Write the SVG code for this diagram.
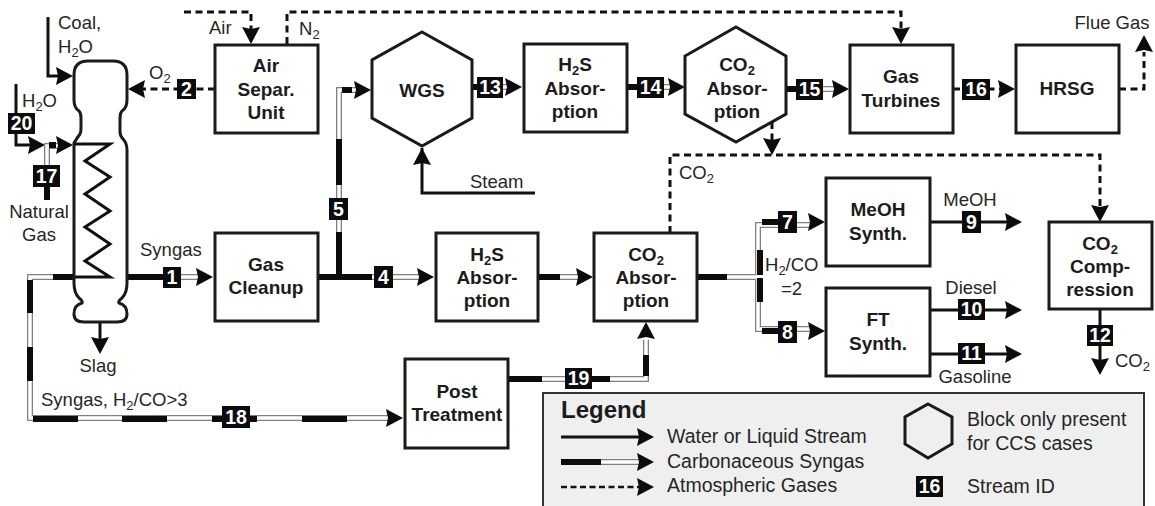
<svg xmlns="http://www.w3.org/2000/svg" width="1155" height="506" viewBox="0 0 1155 506">
<style>
text{font-family:"Liberation Sans",Arial,sans-serif;fill:#262626;font-size:18.5px;text-anchor:middle}
.s{font-size:13px}
.st{text-anchor:start}
.b{font-weight:bold;font-size:19px;fill:#1c1c1c}
.n{font-weight:bold;font-size:19.5px;fill:#fff}
.lg{font-size:19.5px;text-anchor:start}
.box{fill:#fff;stroke:#1a1a1a;stroke-width:3}
.id{fill:#0c0c0c}
.ln{fill:none;stroke:#111;stroke-width:3}
.d{fill:none;stroke:#111;stroke-width:3;stroke-dasharray:7 4.5}
.o{fill:none;stroke:#808080;stroke-width:6}
.i{fill:none;stroke:#fff;stroke-width:3.4}
.k{fill:none;stroke:#0c0c0c;stroke-width:6}
.a{fill:none;stroke:none;marker-end:url(#ah)}
</style>
<defs>
<marker id="ah" markerUnits="userSpaceOnUse" markerWidth="20" markerHeight="20" refX="17" refY="9" orient="auto"><path d="M0 0L17 9L0 18L2 9Z" fill="#0c0c0c"/></marker>
</defs>
<g id="connectors">
<!-- solid -->
<path class="ln" d="M48 17V76H60"/><path class="a" d="M56 76H73"/>
<path class="ln" d="M16 84V145H32"/><path class="a" d="M28 145H45"/>
<path class="ln" d="M73 144H110L85 161L110 177L85 194L110 211L85 227L110 244L85 261L110 277H70"/>
<path class="ln" d="M100 322V340"/><path class="a" d="M100 337V354"/>
<path class="ln" d="M535 193H422V148"/><path class="a" d="M422 165V148"/>
<path class="ln" d="M930 222H1008"/><path class="a" d="M1005 222H1022"/>
<path class="ln" d="M930 310H1008"/><path class="a" d="M1005 310H1022"/>
<path class="ln" d="M930 354H1008"/><path class="a" d="M1005 354H1022"/>
<path class="ln" d="M1100 309V360"/><path class="a" d="M1100 358V375"/>
<!-- dashed -->
<path class="d" d="M184 12H251V30"/><path class="a" d="M251 27V44"/>
<path class="d" d="M287 44V12H901V30"/><path class="a" d="M901 27V44"/>
<path class="d" d="M215 89H143"/><path class="a" d="M145 89H128"/>
<path class="d" d="M953 89H1000"/><path class="a" d="M998 89H1015"/>
<path class="d" d="M1119 89H1144V52"/><path class="a" d="M1144 52V35"/>
<path class="d" d="M772 122V142"/><path class="a" d="M772 138V155"/>
<path class="d" d="M670 233V155H1100V208"/><path class="a" d="M1100 205V222"/>
<!-- hollow syngas -->
<path class="o" d="M74 277H30V418H390"/><path class="i" d="M74 277H30V418H390"/>
<path class="k" d="M53 277H74M30 280V313M30 347V381M33 419H78M122 419H167M212 419H257M302 419H347"/>
<path class="a" d="M386 418H403"/>
<path class="o" d="M127 277H199"/><path class="i" d="M127 277H199"/><path class="k" d="M127 277H165"/><path class="a" d="M196 277H213"/>
<path class="o" d="M318 277H420"/><path class="i" d="M318 277H420"/><path class="k" d="M318 277H372"/><path class="a" d="M417 277H434"/>
<path class="o" d="M339 277V90H358"/><path class="i" d="M339 277V90H358"/><path class="k" d="M339 277V232M339 185V139M342 90H352"/><path class="a" d="M354 90H371"/>
<path class="o" d="M538 277H580"/><path class="i" d="M538 277H580"/><path class="k" d="M538 277H560"/><path class="a" d="M576 277H593"/>
<path class="o" d="M472 87H510"/><path class="i" d="M472 87H510"/><path class="k" d="M472 87H480"/><path class="a" d="M505 87H522"/>
<path class="o" d="M627 87H672"/><path class="i" d="M627 87H672"/><path class="k" d="M627 87H640"/><path class="a" d="M668 87H685"/>
<path class="o" d="M786 89H835"/><path class="i" d="M786 89H835"/><path class="k" d="M786 89H800"/><path class="a" d="M832 89H849"/>
<path class="o" d="M47 167V146H60"/><path class="i" d="M47 167V146H60"/><path class="k" d="M49 145H56M47 185V200"/><path class="a" d="M56 145H73"/>
<path class="o" d="M508 379H646V340"/><path class="i" d="M508 379H646V340"/><path class="k" d="M508 379H542M580 379H610M646 376V355"/><path class="a" d="M646 339V322"/>
<path class="o" d="M697 277H757"/><path class="i" d="M697 277H757"/><path class="k" d="M697 277H727"/>
<path class="o" d="M758 275V225H810"/><path class="i" d="M758 275V225H810"/><path class="k" d="M760 275V250M762 222H780"/><path class="a" d="M808 222H825"/>
<path class="o" d="M758 279V329H810"/><path class="i" d="M758 279V329H810"/><path class="k" d="M760 278V302M762 331H780"/><path class="a" d="M808 331H825"/>
</g>
<g id="gasifier"><path d="M74 75Q74 61 88 61H113Q127 61 127 75V100Q127 108 122 111Q120 113 120 118V132Q120 136 123 139Q127 143 127 150V283Q127 293 122 298Q118 301 119 303Q127 305 127 314Q127 322 117 322H84Q74 322 74 314Q74 305 82 303Q83 301 79 298Q74 293 74 283V143Q77 138 80 134Q81 132 81 128V118Q81 113 79 111Q74 108 74 100Z" fill="none" stroke="#1a1a1a" stroke-width="3"/></g>
<g id="air-sep"><rect class="box" x="215" y="45" width="103" height="88"/><text class="b" x="266" y="72">Air</text><text class="b" x="266" y="96">Separ.</text><text class="b" x="266" y="119">Unit</text></g>
<g id="gas-cleanup"><rect class="box" x="215" y="233" width="103" height="88"/><text class="b" x="266" y="271">Gas</text><text class="b" x="266" y="294">Cleanup</text></g>
<g id="wgs"><path class="box" d="M422 32L472 60V118L422 146L372 118V60Z"/><text class="b" x="422" y="97">WGS</text></g>
<g id="h2s-top"><rect class="box" x="524" y="44" width="103" height="88"/><text class="b" x="575" y="71">H<tspan class="s" dy="4">2</tspan><tspan dy="-4">S</tspan></text><text class="b" x="575" y="95">Absor-</text><text class="b" x="575" y="118">ption</text></g>
<g id="co2-top"><path class="box" d="M736 27L786 56V114L736 142L685 114V56Z"/><text class="b" x="737" y="71">CO<tspan class="s" dy="4">2</tspan></text><text class="b" x="737" y="95">Absor-</text><text class="b" x="737" y="118">ption</text></g>
<g id="gas-turbines"><rect class="box" x="850" y="45" width="103" height="88"/><text class="b" x="901" y="83">Gas</text><text class="b" x="901" y="107">Turbines</text></g>
<g id="hrsg"><rect class="box" x="1016" y="45" width="103" height="88"/><text class="b" x="1067" y="95">HRSG</text></g>
<g id="meoh"><rect class="box" x="826" y="178" width="104" height="88"/><text class="b" x="878" y="216">MeOH</text><text class="b" x="878" y="240">Synth.</text></g>
<g id="ft"><rect class="box" x="826" y="288" width="104" height="88"/><text class="b" x="878" y="326">FT</text><text class="b" x="878" y="350">Synth.</text></g>
<g id="co2-comp"><rect class="box" x="1049" y="222" width="103" height="87"/><text class="b" x="1100" y="250">CO<tspan class="s" dy="4">2</tspan></text><text class="b" x="1100" y="273">Comp-</text><text class="b" x="1100" y="296">ression</text></g>
<g id="h2s-low"><rect class="box" x="436" y="233" width="102" height="88"/><text class="b" x="487" y="261">H<tspan class="s" dy="4">2</tspan><tspan dy="-4">S</tspan></text><text class="b" x="487" y="284">Absor-</text><text class="b" x="487" y="307">ption</text></g>
<g id="co2-low"><rect class="box" x="594" y="233" width="103" height="88"/><text class="b" x="646" y="261">CO<tspan class="s" dy="4">2</tspan></text><text class="b" x="646" y="284">Absor-</text><text class="b" x="646" y="307">ption</text></g>
<g id="post"><rect class="box" x="405" y="359" width="103" height="89"/><text class="b" x="457" y="398">Post</text><text class="b" x="457" y="421">Treatment</text></g>
<g id="labels">
<text class="st" x="58" y="29">Coal,</text>
<text class="st" x="58" y="53">H<tspan class="s" dy="4">2</tspan><tspan dy="-4">O</tspan></text>
<text class="st" x="22" y="107">H<tspan class="s" dy="4">2</tspan><tspan dy="-4">O</tspan></text>
<text x="39" y="218">Natural</text><text x="39" y="241">Gas</text>
<text x="98" y="372">Slag</text>
<text class="st" x="140" y="256">Syngas</text>
<text class="st" x="41" y="406">Syngas, H<tspan class="s" dy="4">2</tspan><tspan dy="-4">/CO&gt;3</tspan></text>
<text class="st" x="149" y="79">O<tspan class="s" dy="4">2</tspan></text>
<text class="st" x="209" y="34">Air</text>
<text class="st" x="299" y="35">N<tspan class="s" dy="4">2</tspan></text>
<text class="st" x="470" y="188">Steam</text>
<text class="st" x="679" y="179">CO<tspan class="s" dy="4">2</tspan></text>
<text x="1112" y="29">Flue Gas</text>
<text x="970" y="206">MeOH</text><text x="971" y="294">Diesel</text><text x="975" y="383">Gasoline</text>
<text class="st" x="1115" y="367">CO<tspan class="s" dy="4">2</tspan></text>
<text class="st" x="765" y="271">H<tspan class="s" dy="4">2</tspan><tspan dy="-4">/CO</tspan></text>
<text class="st" x="781" y="295">=2</text>
</g>
<g id="streams">
<g><rect class="id" x="163" y="267" width="18" height="21"/><text class="n" x="172" y="284">1</text></g>
<g><rect class="id" x="177" y="79" width="19" height="20"/><text class="n" x="186.500" y="96">2</text></g>
<g><rect class="id" x="374" y="266" width="19" height="22"/><text class="n" x="383.500" y="284">4</text></g>
<g><rect class="id" x="329" y="198" width="19" height="22"/><text class="n" x="338.500" y="216">5</text></g>
<g><rect class="id" x="778" y="211" width="19" height="22"/><text class="n" x="787.500" y="229">7</text></g>
<g><rect class="id" x="778" y="321" width="19" height="22"/><text class="n" x="787.500" y="339">8</text></g>
<g><rect class="id" x="962" y="211" width="19" height="22"/><text class="n" x="971.500" y="229">9</text></g>
<g><rect class="id" x="958" y="299" width="27" height="21"/><text class="n" x="971.500" y="316">10</text></g>
<g><rect class="id" x="958" y="343" width="27" height="21"/><text class="n" x="971.500" y="360">11</text></g>
<g><rect class="id" x="1087" y="325" width="26" height="21"/><text class="n" x="1100" y="342">12</text></g>
<g><rect class="id" x="477" y="77" width="26" height="21"/><text class="n" x="490" y="94">13</text></g>
<g><rect class="id" x="637" y="77" width="27" height="21"/><text class="n" x="650.500" y="94">14</text></g>
<g><rect class="id" x="796" y="79" width="27" height="21"/><text class="n" x="809.500" y="96">15</text></g>
<g><rect class="id" x="962" y="79" width="28" height="21"/><text class="n" x="976" y="96">16</text></g>
<g><rect class="id" x="33" y="165" width="27" height="22"/><text class="n" x="46.500" y="183">17</text></g>
<g><rect class="id" x="222" y="406" width="28" height="22"/><text class="n" x="236" y="424">18</text></g>
<g><rect class="id" x="565" y="368" width="27" height="21"/><text class="n" x="578.500" y="385">19</text></g>
<g><rect class="id" x="8" y="113" width="27" height="21"/><text class="n" x="21.500" y="130">20</text></g>
</g>
<g id="legend">
<path d="M543 506V393H1144V506" fill="#efefef" stroke="#333" stroke-width="2"/>
<text x="561" y="418" style="font-weight:bold;font-size:24px;text-anchor:start;fill:#1c1c1c">Legend</text>
<path class="ln" d="M561 437H642"/><path class="a" d="M637 437H654"/>
<path class="o" d="M561 462H642"/><path class="i" d="M561 462H642"/><path class="k" d="M561 462H601"/><path class="a" d="M637 462H654"/>
<path class="d" style="stroke-width:2.500;stroke-dasharray:6 3.500" d="M561 487H640"/><path class="a" d="M637 487H654"/>
<text class="lg" x="667" y="443">Water or Liquid Stream</text>
<text class="lg" x="667" y="468">Carbonaceous Syngas</text>
<text class="lg" x="667" y="492">Atmospheric Gases</text>
<path d="M928 404L952 417V444L928 458L905 444V417Z" fill="none" stroke="#1a1a1a" stroke-width="3"/>
<text class="lg" x="967" y="426">Block only present</text>
<text class="lg" x="967" y="450">for CCS cases</text>
<rect class="id" x="916" y="476" width="27" height="21"/><text class="n" x="929.500" y="493">16</text>
<text class="lg" x="967" y="493">Stream ID</text>
</g>
</svg>
